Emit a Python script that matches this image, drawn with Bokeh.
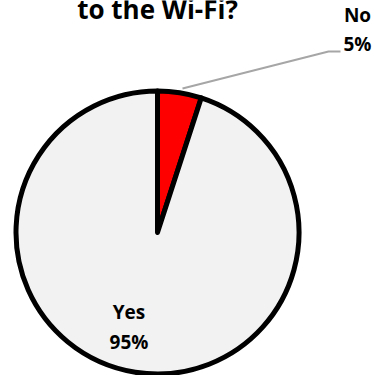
import math
from bokeh.plotting import figure
from bokeh.models import Range1d
from bokeh.core.properties import value
from bokeh.embed import file_html
from bokeh.resources import INLINE

# Data
categories = ["No", "Yes"]
shares = [5, 95]
colors = ["#ff0000", "#f2f2f2"]
title_text = "to the Wi-Fi?"

W, H = 374, 375
p = figure(width=W, height=H, output_backend="svg", toolbar_location=None,
           x_range=Range1d(0, W), y_range=Range1d(0, H), min_border=0)
p.axis.visible = False
p.grid.visible = False
p.outline_line_color = None
p.background_fill_color = "white"
p.border_fill_color = "white"

def Y(py):
    return H - py

cx, cy, r = 157, Y(232), 141.5
total = sum(shares)
start = math.pi / 2
starts, ends = [], []
for s in shares:
    ang = 2 * math.pi * s / total
    starts.append(start - ang)
    ends.append(start)
    start -= ang

p.wedge(x=[cx] * len(shares), y=[cy] * len(shares), radius=r,
        start_angle=starts, end_angle=ends, fill_color=colors,
        line_color="black", line_width=5, line_join="round")

# leader line for "No"
p.line(x=[182, 328, 340], y=[Y(88), Y(51), Y(51)], line_color="#a6a6a6", line_width=2)

font = value("Open Sans")
p.text(x=[157], y=[Y(8.5)], text=[title_text], text_font=font, text_font_style="bold",
       text_font_size="26px", text_align="center", text_baseline="alphabetic", text_color="black")

p.text(x=[357, 357], y=[Y(14), Y(43)], text=[categories[0], f"{shares[0]}%"], text_font=font,
       text_font_style="bold", text_font_size="19px", text_align="center",
       text_baseline="alphabetic", text_color="black")
p.text(x=[128.5, 128.5], y=[Y(311), Y(341)], text=[categories[1], f"{shares[1]}%"], text_font=font,
       text_font_style="bold", text_font_size="19px", text_align="center",
       text_baseline="alphabetic", text_color="black")

open("out.html", "w").write(file_html(p, INLINE))
